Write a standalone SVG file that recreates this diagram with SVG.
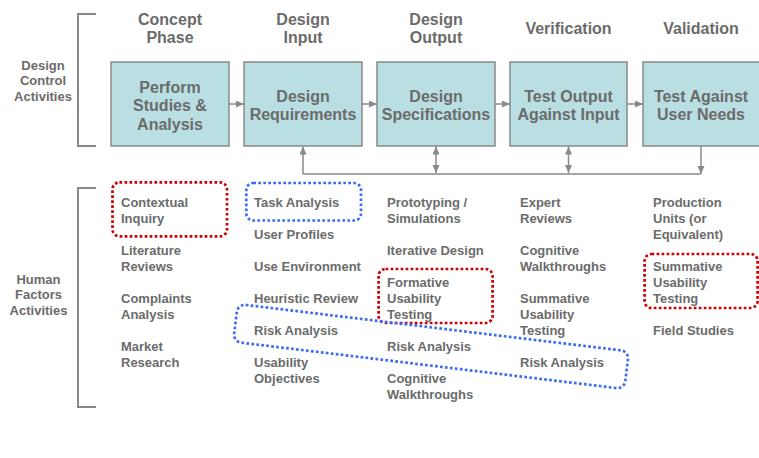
<svg xmlns="http://www.w3.org/2000/svg" width="759" height="458" viewBox="0 0 759 458">
  <style>
    text { font-family: "Liberation Sans", Arial, sans-serif; font-weight: bold; fill: #6b6b6b; }
    .hdr { font-size: 16px; text-anchor: middle; }
    .box { fill: #b9dfe2; stroke: #8a8a8a; stroke-width: 1.5; }
    .boxt { font-size: 16px; text-anchor: middle; }
    .side { font-size: 13px; text-anchor: middle; }
    .hf { font-size: 13px; }
    .bracket { fill: none; stroke: #888; stroke-width: 2; }
    .conn { fill: none; stroke: #8a8a8a; stroke-width: 1.5; }
    .dot-red { fill: none; stroke: #cc0000; stroke-width: 2.7; stroke-dasharray: 2.7 2.3; }
    .dot-blue { fill: none; stroke: #3a6df0; stroke-width: 2.7; stroke-dasharray: 2.7 2.3; }
  </style>
  <defs>
    <marker id="arrow" markerUnits="userSpaceOnUse" markerWidth="9" markerHeight="8" refX="8" refY="3.5" orient="auto-start-reverse">
      <path d="M0,0 L8,3.5 L0,7 z" fill="#8a8a8a"/>
    </marker>
  </defs>

  <rect width="759" height="458" fill="#ffffff"/>

  <!-- side labels and brackets -->
  <g id="design-control-label">
    <text class="side" x="43" y="69.5">Design</text>
    <text class="side" x="43" y="85.3">Control</text>
    <text class="side" x="43" y="101">Activities</text>
    <path class="bracket" d="M96,14 H78 V146 H96"/>
  </g>
  <g id="human-factors-label">
    <text class="side" x="38.5" y="283.5">Human</text>
    <text class="side" x="38.5" y="299.3">Factors</text>
    <text class="side" x="38.5" y="315">Activities</text>
    <path class="bracket" d="M96,188 H78 V407 H96"/>
  </g>

  <!-- phase headings -->
  <g id="headings">
    <text class="hdr" x="170" y="24.5">Concept</text>
    <text class="hdr" x="170" y="42.7">Phase</text>
    <text class="hdr" x="303" y="24.5">Design</text>
    <text class="hdr" x="303" y="42.7">Input</text>
    <text class="hdr" x="436" y="24.5">Design</text>
    <text class="hdr" x="436" y="42.7">Output</text>
    <text class="hdr" x="568.5" y="34">Verification</text>
    <text class="hdr" x="701" y="34">Validation</text>
  </g>

  <!-- design control process boxes -->
  <g id="perform-studies">
    <rect class="box" x="111" y="62" width="118" height="84"/>
    <text class="boxt" x="170" y="92.7">Perform</text>
    <text class="boxt" x="170" y="111.2">Studies &amp;</text>
    <text class="boxt" x="170" y="129.8">Analysis</text>
  </g>
  <g id="design-requirements">
    <rect class="box" x="244" y="62" width="118" height="84"/>
    <text class="boxt" x="303" y="101.7">Design</text>
    <text class="boxt" x="303" y="120.2">Requirements</text>
  </g>
  <g id="design-specifications">
    <rect class="box" x="377" y="62" width="118" height="84"/>
    <text class="boxt" x="436" y="101.7">Design</text>
    <text class="boxt" x="436" y="120.2">Specifications</text>
  </g>
  <g id="test-output">
    <rect class="box" x="510" y="62" width="117" height="84"/>
    <text class="boxt" x="568.5" y="101.7">Test Output</text>
    <text class="boxt" x="568.5" y="120.2">Against Input</text>
  </g>
  <g id="test-user-needs">
    <rect class="box" x="643" y="62" width="118" height="84"/>
    <text class="boxt" x="701" y="101.7">Test Against</text>
    <text class="boxt" x="701" y="120.2">User Needs</text>
  </g>

  <!-- connectors -->
  <g id="connectors">
    <path class="conn" d="M229,104 H244" marker-end="url(#arrow)"/>
    <path class="conn" d="M362,104 H377" marker-end="url(#arrow)"/>
    <path class="conn" d="M495,104 H510" marker-end="url(#arrow)"/>
    <path class="conn" d="M627,104 H643" marker-end="url(#arrow)"/>
    <path class="conn" d="M303,174 V146.5" marker-end="url(#arrow)"/>
    <path class="conn" d="M303,174 H701"/>
    <path class="conn" d="M436,146.5 V173" marker-start="url(#arrow)" marker-end="url(#arrow)"/>
    <path class="conn" d="M568.5,146.5 V173" marker-start="url(#arrow)" marker-end="url(#arrow)"/>
    <path class="conn" d="M701,146 V174" marker-end="url(#arrow)"/>
  </g>

  <!-- human factors activities, one column per phase -->
  <g id="hf-concept">
    <text class="hf" x="121" y="206.5">Contextual</text>
    <text class="hf" x="121" y="222.5">Inquiry</text>
    <text class="hf" x="121" y="254.5">Literature</text>
    <text class="hf" x="121" y="270.5">Reviews</text>
    <text class="hf" x="121" y="302.5">Complaints</text>
    <text class="hf" x="121" y="318.5">Analysis</text>
    <text class="hf" x="121" y="350.5">Market</text>
    <text class="hf" x="121" y="366.5">Research</text>
  </g>
  <g id="hf-input">
    <text class="hf" x="254" y="206.5">Task Analysis</text>
    <text class="hf" x="254" y="238.5">User Profiles</text>
    <text class="hf" x="254" y="270.5">Use Environment</text>
    <text class="hf" x="254" y="302.5">Heuristic Review</text>
    <text class="hf" x="254" y="334.5">Risk Analysis</text>
    <text class="hf" x="254" y="366.5">Usability</text>
    <text class="hf" x="254" y="382.5">Objectives</text>
  </g>
  <g id="hf-output">
    <text class="hf" x="387" y="206.5">Prototyping /</text>
    <text class="hf" x="387" y="222.5">Simulations</text>
    <text class="hf" x="387" y="254.5">Iterative Design</text>
    <text class="hf" x="387" y="286.5">Formative</text>
    <text class="hf" x="387" y="302.5">Usability</text>
    <text class="hf" x="387" y="318.5">Testing</text>
    <text class="hf" x="387" y="350.5">Risk Analysis</text>
    <text class="hf" x="387" y="382.5">Cognitive</text>
    <text class="hf" x="387" y="398.5">Walkthroughs</text>
  </g>
  <g id="hf-verification">
    <text class="hf" x="520" y="206.5">Expert</text>
    <text class="hf" x="520" y="222.5">Reviews</text>
    <text class="hf" x="520" y="254.5">Cognitive</text>
    <text class="hf" x="520" y="270.5">Walkthroughs</text>
    <text class="hf" x="520" y="302.5">Summative</text>
    <text class="hf" x="520" y="318.5">Usability</text>
    <text class="hf" x="520" y="334.5">Testing</text>
    <text class="hf" x="520" y="366.5">Risk Analysis</text>
  </g>
  <g id="hf-validation">
    <text class="hf" x="653" y="206.5">Production</text>
    <text class="hf" x="653" y="222.5">Units (or</text>
    <text class="hf" x="653" y="238.5">Equivalent)</text>
    <text class="hf" x="653" y="270.5">Summative</text>
    <text class="hf" x="653" y="286.5">Usability</text>
    <text class="hf" x="653" y="302.5">Testing</text>
    <text class="hf" x="653" y="334.5">Field Studies</text>
  </g>

  <!-- dotted highlight outlines -->
  <g id="highlights">
    <rect class="dot-red" x="112.5" y="182.3" width="114.5" height="54" rx="7"/>
    <rect class="dot-blue" x="246.3" y="183" width="114.7" height="37.5" rx="7"/>
    <rect class="dot-red" x="378.6" y="269" width="114" height="54" rx="7"/>
    <rect class="dot-red" x="644.6" y="254" width="113" height="54" rx="7"/>
    <rect class="dot-blue" x="234" y="327.5" width="394" height="38" rx="8" transform="rotate(6.9 431 347)"/>
  </g>
</svg>
